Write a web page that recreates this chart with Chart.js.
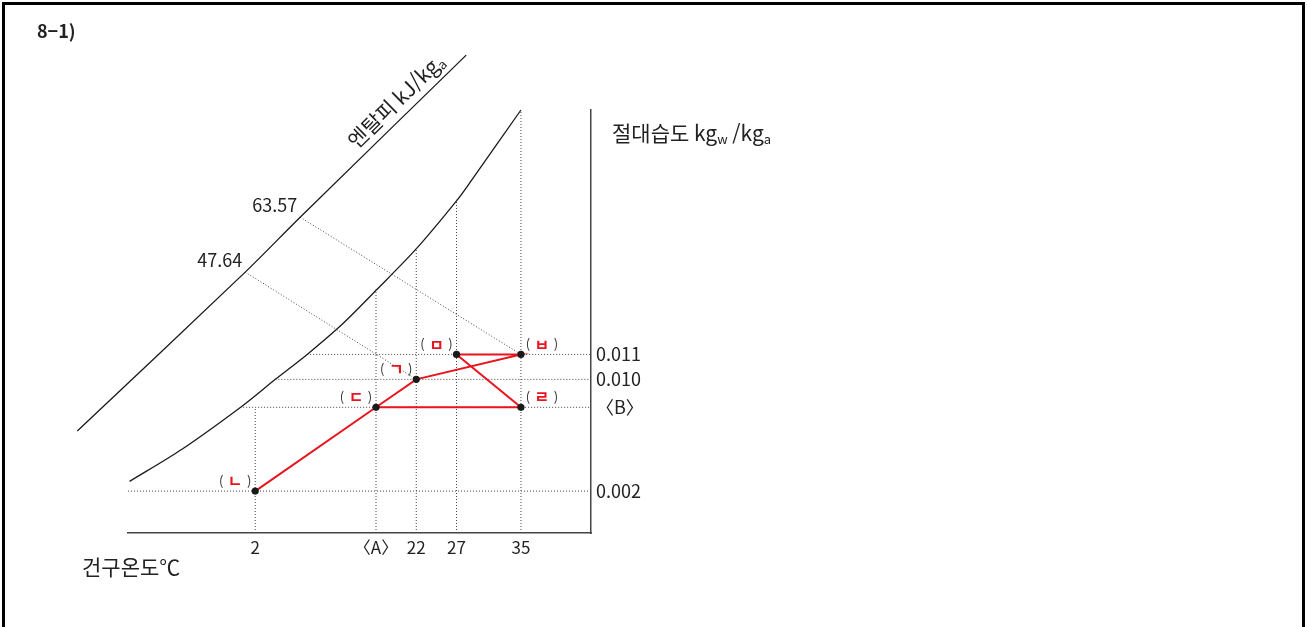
<!DOCTYPE html>
<html lang="ko">
<head>
  <meta charset="UTF-8" />
  <title>8-1 습공기선도</title>
  <script src="https://cdn.jsdelivr.net/npm/chart.js"></script>
  <style>
    body { margin: 0; background: #fff; }
    #wrap { position: relative; width: 1307px; height: 627px; overflow: hidden; }
    canvas { display: block; }
    #frame {
      position: absolute; left: 2px; top: 2px; right: 2px; bottom: -10px;
      border: 3px solid #000; border-bottom: none; pointer-events: none;
    }
  </style>
</head>
<body>
  <div id="wrap">
    <canvas id="chart" width="1307" height="627"></canvas>
    <div id="frame"></div>
  </div>

  <script>
    // 건구온도 축 (°C)
    const tempTicks = [2, 17, 22, 27, 35];
    const tempTickLabels = ["2", "〈A〉", "22", "27", "35"];
    // 절대습도 축 (kg/kg')
    const humTicks = [0.002, 0.008, 0.010, 0.011];
    const humTickLabels = ["0.002", "〈B〉", "0.010", "0.011"];

    // 포화곡선
    const satTemp = [-13.6, -7.1, 0.4, 4.5, 8.45, 12.9, 17.1, 21.9, 27.1, 28.9, 35];
    const satHum = [0.0027, 0.0050, 0.0081, 0.0100, 0.0110, 0.01224, 0.0136, 0.0152, 0.0172, 0.0180, 0.0208];

    // 엔탈피 눈금선
    const enthTemp = [-20.1, 0.76, 7.58, 28.2];
    const enthHum = [0.0063, 0.0143, 0.0165, 0.0230];
    const enthLabels = ["63.57", "47.64"];
    const enthMarkTemp = [7.58, 0.76];
    const enthMarkHum = [0.0165, 0.0143];
    const enthTarget = ["ㅂ", "ㄱ"];

    // 상태점과 과정
    const stateNames = ["ㄱ", "ㄴ", "ㄷ", "ㄹ", "ㅁ", "ㅂ"];
    const stateTemp = [22, 2, 17, 35, 27, 35];
    const stateHum = [0.010, 0.002, 0.008, 0.008, 0.011, 0.011];
    const processPath = ["ㄴ", "ㄷ", "ㄱ", "ㅂ", "ㅁ", "ㄹ", "ㄷ"];

    // 보조선 끝
    const vGuideTop = [0.008, 0.0136, 0.0152, 0.0172, 0.0208];
    const hGuideStart = [-13.8, 0.5, 4.5, 8.45];

    const tempMin = -13.8, tempMax = 43.7;
    const humMin = 0, humMax = 0.0208;

    const problemLabel = "8−1)";
    const xTitle = "건구온도℃";
    const yTitleRuns = [["절대습도 kg", false], ["w", true], [" /kg", false], ["a", true]];
    const enthTitleRuns = [["엔탈피 kJ/kg", false], ["a", true]];

    const FONT = '"Noto Sans CJK KR", "Noto Sans", sans-serif';
    Chart.defaults.font.family = FONT;
    Chart.defaults.color = "#222";

    // 손그림 선도라 습도 눈금 간격이 구간마다 다름
    const warpKnots = [0, 0.002, 0.010, 0.011];
    const warpUnits = [0, 42, 154, 179];
    function interp(v, xs, ys) {
      let i = 0;
      while (i < xs.length - 2 && v > xs[i + 1]) i++;
      return ys[i] + (v - xs[i]) * (ys[i + 1] - ys[i]) / (xs[i + 1] - xs[i]);
    }
    const warp = v => interp(v, warpKnots, warpUnits);
    const unwarp = u => interp(u, warpUnits, warpKnots);

    class WarpScale extends Chart.LinearScale {
      getPixelForValue(value) {
        if (value === null || value === undefined) return NaN;
        const a = warp(this.min), b = warp(this.max);
        return this.getPixelForDecimal((warp(value) - a) / (b - a));
      }
      getValueForPixel(pixel) {
        const a = warp(this.min), b = warp(this.max);
        return unwarp(a + this.getDecimalForPixel(pixel) * (b - a));
      }
    }
    WarpScale.id = "warp";
    Chart.register(WarpScale);

    const pt = (x, y) => ({ x, y });
    const stateAt = name => {
      const i = stateNames.indexOf(name);
      return pt(stateTemp[i], stateHum[i]);
    };

    const guideStyle = {
      showLine: true, borderColor: "#444", borderWidth: 1, borderDash: [1, 2],
      pointRadius: 0, clip: false, order: 5
    };
    const curveStyle = {
      showLine: true, borderColor: "#1a1a1a", borderWidth: 1.3, pointRadius: 0,
      tension: 0.3, clip: false, order: 3
    };

    const datasets = [
      {
        data: stateNames.map(stateAt),
        pointRadius: 3.6, backgroundColor: "#1a1a1a", borderWidth: 0, clip: false, order: 0
      },
      {
        data: processPath.map(stateAt),
        showLine: true, borderColor: "#e8141e", borderWidth: 2, pointRadius: 0, clip: false, order: 1
      },
      { ...curveStyle, data: satTemp.map((t, i) => pt(t, satHum[i])) },
      { ...curveStyle, data: enthTemp.map((t, i) => pt(t, enthHum[i])) },
      ...tempTicks.map((t, i) => ({ ...guideStyle, data: [pt(t, humMin), pt(t, vGuideTop[i])] })),
      ...humTicks.map((h, i) => ({ ...guideStyle, data: [pt(hGuideStart[i], h), pt(tempMax, h)] })),
      ...enthLabels.map((_, i) => ({
        ...guideStyle, data: [pt(enthMarkTemp[i], enthMarkHum[i]), stateAt(enthTarget[i])]
      }))
    ];

    function runsWidth(ctx, runs, size) {
      return runs.reduce((w, [text, sub]) => {
        ctx.font = `${sub ? Math.round(size * 0.6) : size}px ${FONT}`;
        return w + ctx.measureText(text).width;
      }, 0);
    }
    function drawRuns(ctx, runs, x, y, size) {
      let cx = x;
      runs.forEach(([text, sub]) => {
        ctx.font = `${sub ? Math.round(size * 0.6) : size}px ${FONT}`;
        ctx.fillText(text, cx, y + (sub ? size * 0.15 : 0));
        cx += ctx.measureText(text).width;
      });
    }

    const textPlugin = {
      id: "chartTexts",
      afterDatasetsDraw(chart) {
        const { ctx, scales: { x, y } } = chart;
        ctx.save();
        ctx.fillStyle = "#222";
        ctx.textAlign = "left";
        ctx.textBaseline = "middle";

        ctx.font = `600 18px ${FONT}`;
        ctx.fillText(problemLabel, 37, 31);

        ctx.font = `21px ${FONT}`;
        ctx.fillText(xTitle, 82, 567);

        ctx.textBaseline = "alphabetic";
        drawRuns(ctx, yTitleRuns, 612, 141, 21);

        // 엔탈피 축 제목 (선을 따라 45도)
        const n = enthTemp.length;
        const x0 = x.getPixelForValue(enthTemp[n - 2]), y0 = y.getPixelForValue(enthHum[n - 2]);
        const x1 = x.getPixelForValue(enthTemp[n - 1]), y1 = y.getPixelForValue(enthHum[n - 1]);
        const f = 0.645;
        const ang = Math.atan2(y1 - y0, x1 - x0);
        const cx = x0 + (x1 - x0) * f + Math.sin(ang) * 15.5;
        const cy = y0 + (y1 - y0) * f - Math.cos(ang) * 15.5;
        ctx.save();
        ctx.translate(cx, cy);
        ctx.rotate(ang);
        drawRuns(ctx, enthTitleRuns, -runsWidth(ctx, enthTitleRuns, 21) / 2, 7, 21);
        ctx.restore();

        // 엔탈피 값
        ctx.textAlign = "right";
        ctx.textBaseline = "middle";
        ctx.font = `18px ${FONT}`;
        enthLabels.forEach((lab, i) => {
          const px = x.getPixelForValue(enthMarkTemp[i]);
          const py = y.getPixelForValue(enthMarkHum[i]);
          ctx.fillText(lab, px - 3, py - 12);
        });

        // 상태점 이름
        ctx.textAlign = "center";
        const rightMost = Math.max(...stateTemp);
        stateNames.forEach((name, i) => {
          const px = x.getPixelForValue(stateTemp[i]);
          const py = y.getPixelForValue(stateHum[i]);
          const lx = px + (stateTemp[i] === rightMost ? 21 : -20);
          const ly = py - 10;
          ctx.font = `13px ${FONT}`;
          ctx.fillStyle = "#333";
          ctx.fillText("(", lx - 14, ly);
          ctx.fillText(")", lx + 14, ly);
          ctx.font = `bold 16px ${FONT}`;
          ctx.fillStyle = "#e8141e";
          ctx.fillText(name, lx, ly);
        });
        ctx.restore();
      }
    };

    new Chart(document.getElementById("chart"), {
      type: "scatter",
      data: { datasets },
      options: {
        responsive: false,
        animation: false,
        layout: { padding: { left: 128, top: 110, right: 656, bottom: 64 } },
        plugins: { legend: { display: false }, tooltip: { enabled: false } },
        scales: {
          x: {
            type: "linear",
            min: tempMin,
            max: tempMax,
            grid: { display: false, drawTicks: false },
            border: { display: true, color: "#444", width: 1.5 },
            ticks: {
              autoSkip: false, maxRotation: 0, padding: 4, color: "#222",
              font: { size: 17 },
              callback: (v, i) => tempTickLabels[i]
            },
            afterBuildTicks: s => { s.ticks = tempTicks.map(v => ({ value: v })); },
            afterFit: s => { s.height = 30; }
          },
          y: {
            type: "warp",
            position: "right",
            min: humMin,
            max: humMax,
            grid: { display: false, drawTicks: false },
            border: { display: true, color: "#444", width: 1.5 },
            ticks: {
              autoSkip: false, padding: 5, color: "#222",
              font: { size: 18 },
              callback: (v, i) => humTickLabels[i]
            },
            afterBuildTicks: s => { s.ticks = humTicks.map(v => ({ value: v })); },
            afterFit: s => { s.width = 60; }
          }
        }
      },
      plugins: [textPlugin]
    });
  </script>
</body>
</html>
